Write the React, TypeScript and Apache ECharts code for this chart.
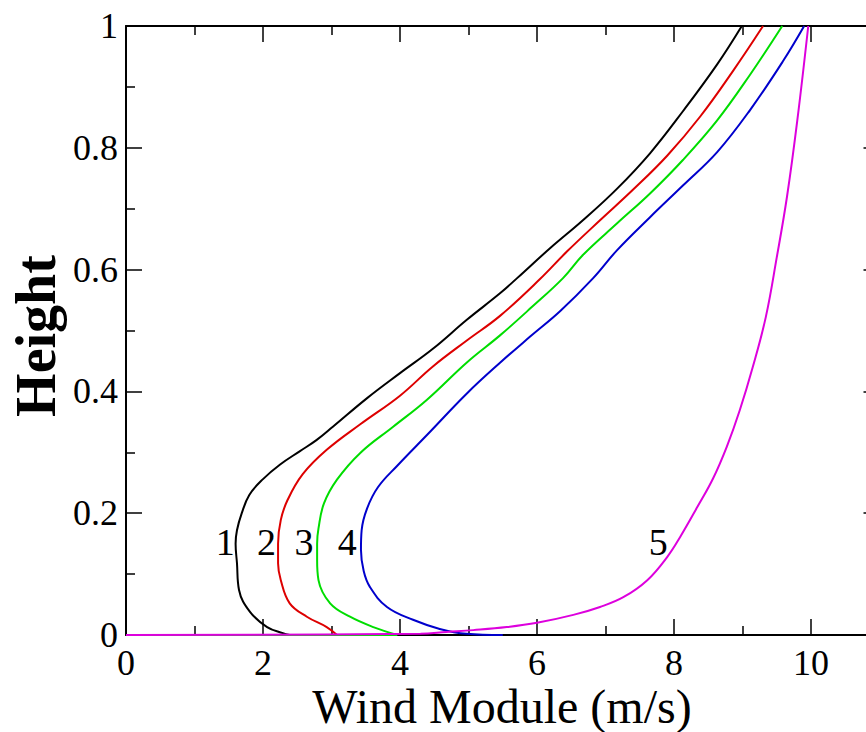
import React, { useEffect, useRef } from "react";
import * as echarts from "echarts";

const curve1 = [[0,0],[2.39,0],[2.29,0.003],[2.06,0.013],[1.81,0.038],[1.65,0.074],[1.62,0.118],[1.60,0.15],[1.62,0.172],[1.69,0.200],[1.80,0.230],[2.0,0.256],[2.25,0.280],[2.54,0.302],[2.78,0.320],[3.02,0.342],[3.52,0.389],[4.0,0.430],[4.48,0.470],[4.98,0.518],[5.46,0.561],[5.71,0.586],[6.19,0.635],[6.67,0.681],[7.17,0.733],[7.65,0.791],[8.13,0.860],[8.63,0.937],[8.99,1.0]];
const curve2 = [[0,0],[3.08,0],[2.93,0.013],[2.64,0.030],[2.39,0.052],[2.26,0.090],[2.22,0.118],[2.22,0.150],[2.26,0.189],[2.36,0.222],[2.58,0.264],[2.93,0.304],[3.42,0.346],[4.0,0.393],[4.48,0.441],[4.98,0.484],[5.46,0.524],[6.04,0.584],[6.44,0.630],[6.92,0.681],[7.40,0.731],[7.90,0.787],[8.38,0.851],[8.86,0.926],[9.30,1.0]];
const curve3 = [[0,0],[3.96,0],[3.61,0.013],[3.27,0.030],[2.98,0.052],[2.81,0.090],[2.79,0.123],[2.79,0.150],[2.81,0.175],[2.89,0.216],[3.08,0.255],[3.42,0.299],[3.90,0.342],[4.39,0.386],[4.98,0.448],[5.46,0.492],[5.92,0.538],[6.38,0.586],[6.67,0.624],[7.17,0.676],[7.65,0.725],[8.13,0.780],[8.63,0.845],[9.11,0.920],[9.58,1.0]];
const curve4 = [[5.5,0],[4.97,0.002],[4.58,0.010],[4.19,0.025],[3.81,0.046],[3.56,0.079],[3.47,0.105],[3.43,0.140],[3.44,0.172],[3.52,0.208],[3.68,0.243],[3.96,0.278],[4.39,0.328],[4.98,0.397],[5.46,0.447],[5.90,0.490],[6.34,0.532],[6.82,0.586],[7.17,0.632],[7.65,0.686],[8.13,0.738],[8.63,0.793],[9.11,0.862],[9.59,0.942],[9.90,1.0]];
const curve5 = [[0,0],[4.3,0.002],[4.68,0.005],[5.07,0.008],[5.56,0.013],[6.0,0.020],[6.53,0.033],[6.92,0.046],[7.26,0.062],[7.61,0.090],[7.90,0.128],[8.09,0.161],[8.34,0.210],[8.57,0.257],[8.77,0.309],[8.96,0.369],[9.15,0.440],[9.34,0.522],[9.50,0.620],[9.65,0.72],[9.80,0.845],[9.96,1.0]];

const curveNames = ["1", "2", "3", "4", "5"];
const curveColors = ["#000000", "#dd0000", "#00dd00", "#0000cc", "#dd00dd"];
const curveData = [curve1, curve2, curve3, curve4, curve5];
const labelPoints = [[1.45, 0.152], [2.05, 0.152], [2.6, 0.152], [3.23, 0.152], [7.77, 0.152]];

const xTitle = "Wind Module (m/s)";
const yTitle = "Height";

const FONT = "Liberation Serif";

export default function App() {
  const ref = useRef<HTMLDivElement>(null);
  useEffect(() => {
    if (!ref.current) return;
    const chart = echarts.init(ref.current, undefined, { renderer: "svg" });
    const axisCommon = {
      axisLine: { show: true, onZero: false, lineStyle: { color: "#000", width: 2 } },
      axisTick: { show: true, inside: true, length: 16, lineStyle: { color: "#000", width: 1.5 } },
      minorTick: { show: true, splitNumber: 2, length: 9, lineStyle: { color: "#000", width: 1.5 } },
      splitLine: { show: false },
      minorSplitLine: { show: false },
    };
    const xBase = { type: "value", min: 0, max: 11, interval: 2, ...axisCommon };
    const yBase = { type: "value", min: 0, max: 1, interval: 0.2, ...axisCommon };
    chart.setOption({
      animation: false,
      backgroundColor: "#fff",
      grid: { left: 126, top: 26, right: 20.5, bottom: 97 },
      xAxis: [
        {
          ...xBase,
          position: "bottom",
          axisLabel: { show: true, color: "#000", fontFamily: FONT, fontSize: 36, margin: 10, showMaxLabel: false },
        },
        { ...xBase, position: "top", axisLabel: { show: false } },
      ],
      yAxis: [
        {
          ...yBase,
          position: "left",
          axisLabel: { show: true, color: "#000", fontFamily: FONT, fontSize: 36, margin: 8, padding: [6, 0, 0, 0] },
        },
        { ...yBase, position: "right", axisLabel: { show: false } },
      ],
      series: [
        ...curveData.map((d, i) => ({
          type: "line",
          name: curveNames[i],
          data: d,
          xAxisIndex: 0,
          yAxisIndex: 0,
          showSymbol: false,
          symbol: "none",
          smooth: 0.4,
          lineStyle: { color: curveColors[i], width: 2 },
          z: 2 + i,
        })),
        {
          type: "scatter",
          data: labelPoints.map((p, i) => ({ value: p, name: curveNames[i] })),
          symbolSize: 1,
          itemStyle: { opacity: 0 },
          label: {
            show: true,
            position: "inside",
            formatter: (p: any) => p.name,
            color: "#000",
            opacity: 1,
            fontFamily: FONT,
            fontSize: 38,
          },
          z: 10,
        },
      ],
      graphic: [
        {
          type: "text",
          x: 502,
          y: 706,
          style: { text: xTitle, font: `48px ${FONT}`, fill: "#000", align: "center", verticalAlign: "middle" },
        },
        {
          type: "text",
          x: 36,
          y: 336,
          rotation: Math.PI / 2,
          style: { text: yTitle, font: `bold 56px ${FONT}`, fill: "#000", align: "center", verticalAlign: "middle" },
        },
      ],
    });
    return () => chart.dispose();
  }, []);
  return (
    <div style={{ position: "fixed", left: 0, top: 0, width: 866, height: 732, overflow: "hidden", background: "#fff" }}>
      <div ref={ref} style={{ width: 900, height: 732 }} />
    </div>
  );
}
